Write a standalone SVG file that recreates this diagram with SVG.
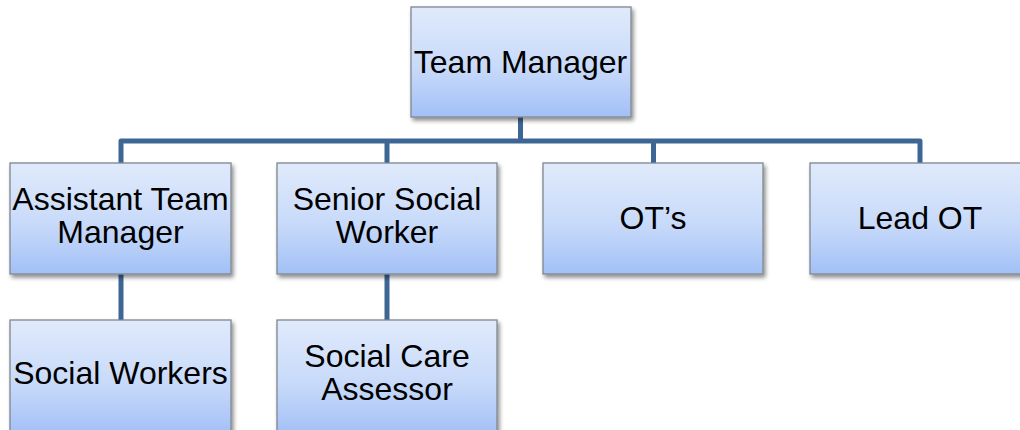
<svg xmlns="http://www.w3.org/2000/svg" width="1020" height="430" viewBox="0 0 1020 430">
<defs>
<linearGradient id="g" x1="0" y1="0" x2="0" y2="1">
<stop offset="0" stop-color="#e0eafb"/>
<stop offset="0.55" stop-color="#c8dafa"/>
<stop offset="1" stop-color="#a2c0f6"/>
</linearGradient>
<filter id="sh" x="-10%" y="-10%" width="125%" height="130%">
<feGaussianBlur in="SourceAlpha" stdDeviation="2"/>
<feOffset dx="2" dy="3" result="b"/>
<feComponentTransfer><feFuncA type="linear" slope="0.45"/></feComponentTransfer>
<feMerge><feMergeNode/><feMergeNode in="SourceGraphic"/></feMerge>
</filter>
</defs>
<style>
.box{fill:url(#g);stroke:#7f8790;stroke-width:1.3;filter:url(#sh)}
.t{font-family:"Liberation Sans",Arial,sans-serif;font-size:32px;fill:#000;text-anchor:middle}
.c{fill:none;stroke:#3e6694;stroke-width:5;stroke-linejoin:round}
</style>
<rect width="1020" height="430" fill="#fff"/>
<g id="connectors">
<path class="c" d="M520.5 117V141M121 163V141H920V163M387 141V163M653.5 141V163"/>
<path class="c" d="M121 274V320M387 274V320"/>
</g>
<g id="team-manager">
<rect class="box" x="411" y="7" width="220" height="110"/>
<text class="t" x="520.5" y="72.5">Team Manager</text>
</g>
<g id="assistant-team-manager">
<rect class="box" x="10" y="163" width="221" height="111"/>
<text class="t" x="120.5" y="209.5">Assistant Team</text>
<text class="t" x="120.5" y="243">Manager</text>
</g>
<g id="senior-social-worker">
<rect class="box" x="277" y="163" width="220" height="111"/>
<text class="t" x="387" y="210">Senior Social</text>
<text class="t" x="387" y="243">Worker</text>
</g>
<g id="ots">
<rect class="box" x="543" y="163" width="220" height="111"/>
<text class="t" x="653" y="228.5">OT’s</text>
</g>
<g id="lead-ot">
<rect class="box" x="810" y="163" width="220" height="111"/>
<text class="t" x="920" y="228.5">Lead OT</text>
</g>
<g id="social-workers">
<rect class="box" x="10" y="320" width="221" height="115"/>
<text class="t" x="120.5" y="383.5">Social Workers</text>
</g>
<g id="social-care-assessor">
<rect class="box" x="277" y="320" width="220" height="115"/>
<text class="t" x="387" y="367">Social Care</text>
<text class="t" x="387" y="400">Assessor</text>
</g>
</svg>
